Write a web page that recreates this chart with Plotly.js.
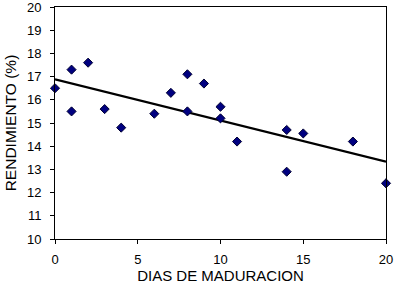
<!DOCTYPE html>
<html>
<head>
<meta charset="utf-8">
<script src="https://cdn.plot.ly/plotly-3.0.1.min.js"></script>
<style>html,body{margin:0;padding:0;background:#fff;}#chart{width:401px;height:284px;}</style>
</head>
<body>
<div id="chart"></div>
<script>
const dias = [0, 1, 1, 2, 3, 4, 6, 7, 8, 8, 9, 10, 10, 11, 14, 14, 15, 18, 20];
const rendimiento = [16.5, 17.3, 15.5, 17.6, 15.6, 14.8, 15.4, 16.3, 17.1, 15.5, 16.7, 15.7, 15.2, 14.2, 14.7, 12.9, 14.55, 14.2, 12.4];
const xTicks = [0, 5, 10, 15, 20];
const yTicks = [10, 11, 12, 13, 14, 15, 16, 17, 18, 19, 20];

// least-squares trend line from the data
const n = dias.length;
const mx = dias.reduce((a, b) => a + b, 0) / n;
const my = rendimiento.reduce((a, b) => a + b, 0) / n;
let sxy = 0, sxx = 0;
for (let i = 0; i < n; i++) { sxy += (dias[i] - mx) * (rendimiento[i] - my); sxx += (dias[i] - mx) ** 2; }
const slope = sxy / sxx;
const intercept = my - slope * mx;
const xMin = Math.min(...dias), xMax = Math.max(...dias);
const trendX = [xMin, xMax];
const trendY = trendX.map(x => intercept + slope * x);

const font = {family: 'Arial, "Liberation Sans", sans-serif', color: '#000'};

Plotly.newPlot('chart', [
  {x: trendX, y: trendY, mode: 'lines', line: {color: '#000', width: 2.2}, hoverinfo: 'skip', cliponaxis: false},
  {x: dias, y: rendimiento, mode: 'markers', cliponaxis: false,
   marker: {symbol: 'diamond', size: 7, color: '#000080', line: {color: '#000033', width: 1}}}
], {
  width: 401, height: 284,
  margin: {l: 55, r: 15, t: 7, b: 45},
  paper_bgcolor: '#fff', plot_bgcolor: '#fff',
  showlegend: false,
  font: Object.assign({size: 13}, font),
  xaxis: {
    range: [0, 20], tickvals: xTicks, ticktext: xTicks.map(String),
    showgrid: false, zeroline: false, showline: true, mirror: true, linecolor: '#000', linewidth: 1,
    ticks: 'outside', ticklen: 4, tickcolor: '#000', ticklabelstandoff: 4, ticklabeloverflow: 'allow',
    tickfont: Object.assign({size: 13}, font),
    title: {text: 'DIAS DE MADURACION', font: Object.assign({size: 15}, font), standoff: 2}
  },
  yaxis: {
    range: [10, 20], tickvals: yTicks, ticktext: yTicks.map(String),
    showgrid: false, zeroline: false, showline: true, mirror: true, linecolor: '#000', linewidth: 1,
    ticks: 'outside', ticklen: 4, tickcolor: '#000', ticklabelstandoff: 6, ticklabeloverflow: 'allow',
    tickfont: Object.assign({size: 13}, font),
    title: {text: 'RENDIMIENTO (%)', font: Object.assign({size: 15.5}, font), standoff: 6}
  }
}, {staticPlot: true});
</script>
</body>
</html>
